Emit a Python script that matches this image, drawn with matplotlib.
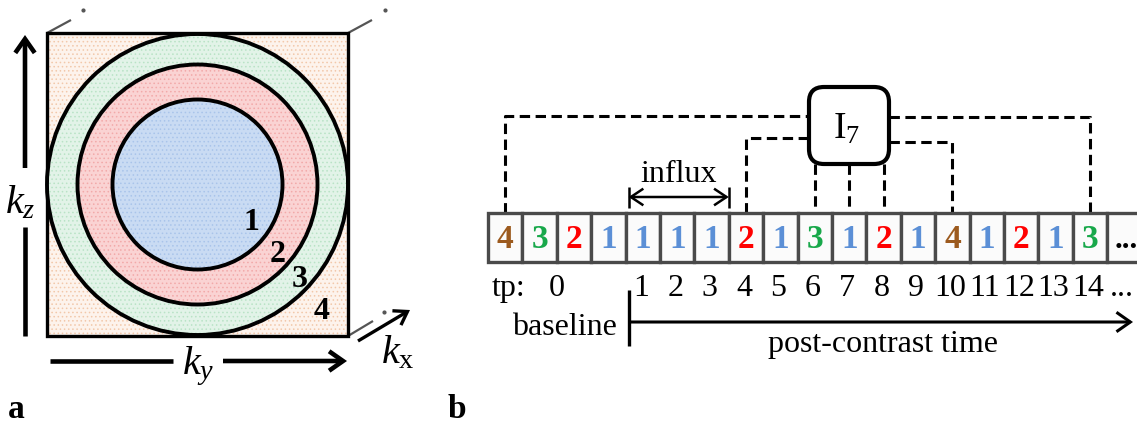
import matplotlib
matplotlib.use("Agg")
import matplotlib.pyplot as plt
from matplotlib.patches import Rectangle, Circle, FancyBboxPatch, FancyArrowPatch, ArrowStyle

plt.rcParams["font.family"] = ["Liberation Serif", "DejaVu Serif"]
plt.rcParams["mathtext.fontset"] = "custom"
plt.rcParams["mathtext.rm"] = "Liberation Serif"
plt.rcParams["mathtext.it"] = "Liberation Serif:italic"
plt.rcParams["hatch.linewidth"] = 0.6

# ---- data -------------------------------------------------------------
# k-space region sampled at each acquisition frame (1 = centre ... 4 = corners)
region_sequence = [4, 3, 2, 1, 1, 1, 1, 2, 1, 3, 1, 2, 1, 4, 1, 2, 1, 3]
region_colors = {1: "#5b8fd6", 2: "#ff0000", 3: "#18a84a", 4: "#9c5a1e"}
# time-point labels under the frames
tp_labels = ["1", "2", "3", "4", "5", "6", "7", "8", "9", "10", "11", "12", "13", "14"]
n_baseline = 4          # frames forming time point 0
influx_frames = (4, 7)  # frames spanned by the contrast influx
# frames shared to reconstruct I_7 (outer link, inner link, direct)
outer_links = (0, 17)
inner_links = (7, 13)
direct_links = [9, 10, 11]
# annulus radii of the four k-space regions
ring_radii = [150.5, 120, 85]
ring_colors = ["#e2f3e8", "#fad3d3", "#c9dbf3"]
ring_dots = ["#b9e3c6", "#f2a9a9", "#a9c4ea"]
corner_color = "#fdf3ec"
corner_dots = "#f2c8aa"

W, H = 1137, 426
fig = plt.figure(figsize=(W / 100, H / 100), dpi=100)
ax = fig.add_axes([0, 0, 1, 1])
ax.set_xlim(0, W)
ax.set_ylim(H, 0)
ax.axis("off")

BLACK = "#000000"

def arrow(p0, p1, lw, hl, hw, style="->", z=5):
    st = ArrowStyle(style, head_length=hl, head_width=hw)
    a = FancyArrowPatch(p0, p1, arrowstyle=st, mutation_scale=10, lw=lw,
                        color=BLACK, shrinkA=0, shrinkB=0, zorder=z,
                        joinstyle="miter", capstyle="butt")
    ax.add_patch(a)

# ---- panel a: k-space partition ---------------------------------------
sq_x0, sq_y0, sq_x1, sq_y1 = 47, 33, 348, 336
cx, cy = (sq_x0 + sq_x1) / 2, (sq_y0 + sq_y1) / 2

# perspective edges of the k-space cube
for (x0, y0), (x1, y1), (dx, dy) in [((sq_x0, sq_y0), (71, 20), (83, 10)),
                                     ((sq_x1, sq_y0), (372, 20), (385, 10)),
                                     ((sq_x1, sq_y1), (373, 321), (384, 312))]:
    ax.plot([x0, x1], [y0, y1], color="#555555", lw=1.6, zorder=1,
            solid_capstyle="butt")
    ax.plot([dx], [dy], "o", color="#555555", ms=2, zorder=1)

ax.add_patch(Rectangle((sq_x0, sq_y0), sq_x1 - sq_x0, sq_y1 - sq_y0,
                       facecolor=corner_color, edgecolor="none", zorder=2))
ax.add_patch(Rectangle((sq_x0, sq_y0), sq_x1 - sq_x0, sq_y1 - sq_y0,
                       facecolor="none", edgecolor=corner_dots, hatch="....",
                       lw=0, zorder=2))
ax.add_patch(Rectangle((sq_x0, sq_y0), sq_x1 - sq_x0, sq_y1 - sq_y0,
                       facecolor="none", edgecolor=BLACK, lw=2.4, zorder=3))
for r, c, d in zip(ring_radii, ring_colors, ring_dots):
    ax.add_patch(Circle((cx, cy), r, facecolor=c, edgecolor="none", zorder=3))
    ax.add_patch(Circle((cx, cy), r, facecolor="none", edgecolor=d,
                        hatch="....", lw=0, zorder=3))
    ax.add_patch(Circle((cx, cy), r, facecolor="none", edgecolor=BLACK,
                        lw=2.8, zorder=3))

for label, (x, y) in zip(["1", "2", "3", "4"],
                         [(251, 230), (278, 262), (300, 287), (322, 319)]):
    ax.text(x, y, label, fontsize=23, fontweight="bold", ha="center",
            va="baseline", zorder=6)

# axis arrows
ax.plot([25, 25], [336, 227], color=BLACK, lw=3.3, solid_capstyle="butt")
arrow((25, 168), (25, 35), 3.3, 1.0, 0.7)
ax.text(20, 213, r"$k_z$", fontsize=29, ha="center", va="baseline")

ax.plot([50, 173], [361, 361], color=BLACK, lw=3.3, solid_capstyle="butt")
arrow((223, 361), (347, 361), 3.3, 1.0, 0.7)
ax.text(198, 374, r"$k_y$", fontsize=29, ha="center", va="baseline")

arrow((358, 341), (410, 310), 2.4, 0.9, 0.6)
ax.text(381, 363, r"$k_\mathrm{x}$", fontsize=29, ha="left", va="baseline")

ax.text(8, 425, "a", fontsize=24, fontweight="bold", ha="left", va="bottom")

# ---- panel b: acquisition order ----------------------------------------
x0, cw = 488, 34.4
ytop, ybot = 213, 262
ncell = len(region_sequence) + 1

def cell_cx(i):
    return x0 + cw * (i + 0.5)

for i in range(ncell):
    ax.add_patch(Rectangle((x0 + cw * i, ytop), cw, ybot - ytop,
                           facecolor="#fbfbfb", edgecolor="#4a4a4a", lw=2.4,
                           zorder=4))
for i, code in enumerate(region_sequence):
    ax.text(cell_cx(i), 248, str(code), color=region_colors[code], fontsize=24,
            fontweight="bold", ha="center", va="baseline", zorder=6)
ax.text(cell_cx(ncell - 1) + 2, 248, "...", fontsize=22, fontweight="bold",
        ha="center", va="baseline", zorder=6)

# reconstruction box for I_7
bx0, by0, bx1, by1 = 809, 87, 889, 164
ax.add_patch(FancyBboxPatch((bx0, by0), bx1 - bx0, by1 - by0,
                            boxstyle="round,pad=0,rounding_size=15",
                            facecolor="white", edgecolor=BLACK, lw=3.0, zorder=5))
ax.text((bx0 + bx1) / 2 - 2, 139, r"$\mathrm{I}_7$", fontsize=27,
        ha="center", va="baseline", zorder=6)

dash = dict(color=BLACK, lw=2.2, linestyle=(0, (3.4, 1.8)), zorder=3)
yl_out, yl_in, yr_out, yr_in = 116, 138, 117, 142
ax.plot([cell_cx(outer_links[0])] * 2 + [bx0], [ytop, yl_out, yl_out], **dash)
ax.plot([cell_cx(inner_links[0])] * 2 + [bx0], [ytop, yl_in, yl_in], **dash)
ax.plot([bx1] + [cell_cx(outer_links[1])] * 2, [yr_out, yr_out, ytop], **dash)
ax.plot([bx1] + [cell_cx(inner_links[1])] * 2, [yr_in, yr_in, ytop], **dash)
for i in direct_links:
    ax.plot([cell_cx(i)] * 2, [by1, ytop], **dash)

# influx span
ix0, ix1 = x0 + cw * influx_frames[0] + 3, x0 + cw * influx_frames[1]
arrow((ix0, 197), (ix1, 197), 1.8, 0.9, 0.6, style="<->")
for xx in (ix0, ix1):
    ax.plot([xx, xx], [187, 208], color=BLACK, lw=1.8, solid_capstyle="butt")
ax.text((ix0 + ix1) / 2, 182, "influx", fontsize=23, ha="center", va="baseline")

# time points
ax.text(492, 296, "tp:", fontsize=23, ha="left", va="baseline")
ax.text(x0 + cw * n_baseline / 2, 296, "0", fontsize=23, ha="center",
        va="baseline")
for k, lab in enumerate(tp_labels):
    ax.text(cell_cx(n_baseline + k) - 2, 296, lab, fontsize=23, ha="center",
            va="baseline")
ax.text(1122, 296, "...", fontsize=23, ha="center", va="baseline")

ax.plot([629, 629], [290, 346], color=BLACK, lw=2.4, solid_capstyle="butt")
arrow((629, 322), (1133, 322), 2.2, 1.0, 0.7)
ax.text(617, 335, "baseline", fontsize=23, ha="right", va="baseline")
ax.text(883, 352, "post-contrast time", fontsize=23, ha="center", va="baseline")

ax.text(448, 425, "b", fontsize=24, fontweight="bold", ha="left", va="bottom")

fig.savefig("out.png", dpi=100)
